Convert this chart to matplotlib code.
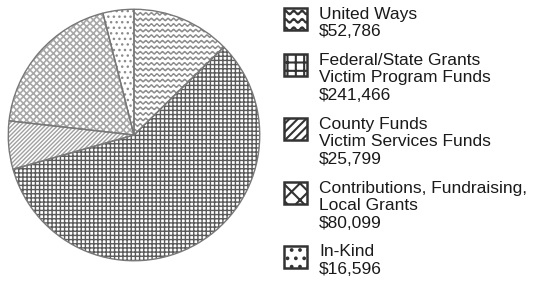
import warnings
import numpy as np
import matplotlib
matplotlib.use("Agg")
import matplotlib.pyplot as plt
import matplotlib.hatch as mhatch
from matplotlib.path import Path
from matplotlib.patches import Rectangle

warnings.filterwarnings("ignore", message=".*hatch must consist.*")

# data
sources = ["United Ways",
           "Federal/State Grants\nVictim Program Funds",
           "County Funds\nVictim Services Funds",
           "Contributions, Fundraising,\nLocal Grants",
           "In-Kind"]
amounts = [52786, 241466, 25799, 80099, 16596]

# styles (pie hatch, icon hatch, colour, hatch linewidth)
pieHatches = ["~~~", "++++", "////////", "xxxxx", "..."]
iconHatches = ["~~", "++", "////", "xx", ".."]
hatchColors = ["#8c8c8c", "#5a5a5a", "#a0a0a0", "#a8a8a8", "#8c8c8c"]
hatchWidths = [1.0, 1.0, 1.0, 1.2, 1.0]


# wavy hatch, '~' character
class WaveHatch(mhatch.HatchPatternBase):
    ptsPerPeriod = 8

    def __init__(self, hatch, density):
        self.num_lines = int(hatch.count('~') * density)
        self.periods = self.num_lines
        self.nPts = self.periods * self.ptsPerPeriod + 1
        self.num_vertices = self.num_lines * self.nPts

    def set_vertices_and_codes(self, vertices, codes):
        step = 1.0 / self.num_lines
        xs = np.linspace(0.0, 1.0, self.nPts)
        amp = 0.22 * step
        for ii in range(self.num_lines):
            y0 = (ii + 0.5) * step
            sl = slice(ii * self.nPts, (ii + 1) * self.nPts)
            vertices[sl, 0] = xs
            vertices[sl, 1] = y0 + amp * np.sin(2 * np.pi * self.periods * xs)
            codes[sl] = Path.LINETO
            codes[ii * self.nPts] = Path.MOVETO


mhatch._hatch_types.append(WaveHatch)

plt.rcParams['font.family'] = ['Liberation Sans', 'DejaVu Sans']
plt.rcParams['hatch.linewidth'] = 1.0

fig = plt.figure(figsize=(5.4, 2.84), dpi=100)

# pie axes: centre (134,135) px, radius 127 px
cx, cy, r = 134, 135, 127
ax = fig.add_axes([(cx - r) / 540, (284 - cy - r) / 284, 2 * r / 540, 2 * r / 284])
wedges, _ = ax.pie(amounts, startangle=90, counterclock=False, radius=1,
                   wedgeprops=dict(facecolor="white", linewidth=0))
for ww, hh, cc, lw in zip(wedges, pieHatches, hatchColors, hatchWidths):
    ww.set_hatch(hh)
    ww.set_edgecolor(cc)
    if hasattr(ww, "set_hatch_linewidth"):
        ww.set_hatch_linewidth(lw)

# outlines on top
ax.pie(amounts, startangle=90, counterclock=False, radius=1,
       wedgeprops=dict(fill=False, edgecolor="#787878", linewidth=1.0))
ax.set_xlim(-1.01, 1.01)
ax.set_ylim(-1.01, 1.01)
ax.axis("off")

# legend drawn in pixel coordinates
lax = fig.add_axes([0, 0, 1, 1])
lax.set_xlim(0, 540)
lax.set_ylim(284, 0)
lax.axis("off")

lineStep = 17.7
entryGap = 28.5
yy = 14
for label, amt, hh in zip(sources, amounts, iconHatches):
    lines = label.split("\n") + ["${:,}".format(amt)]
    icon = Rectangle((284, yy - 6), 23, 22, facecolor="white", edgecolor="#333333",
                     linewidth=1.8, hatch=hh)
    if hasattr(icon, "set_hatch_linewidth"):
        icon.set_hatch_linewidth(1.5)
    lax.add_patch(icon)
    for jj, line in enumerate(lines):
        lax.text(319, yy + jj * lineStep, line, fontsize=12.5, color="#1a1a1a",
                 va="center", ha="left")
    yy = yy + (len(lines) - 1) * lineStep + entryGap

fig.savefig("out.png", dpi=100)
